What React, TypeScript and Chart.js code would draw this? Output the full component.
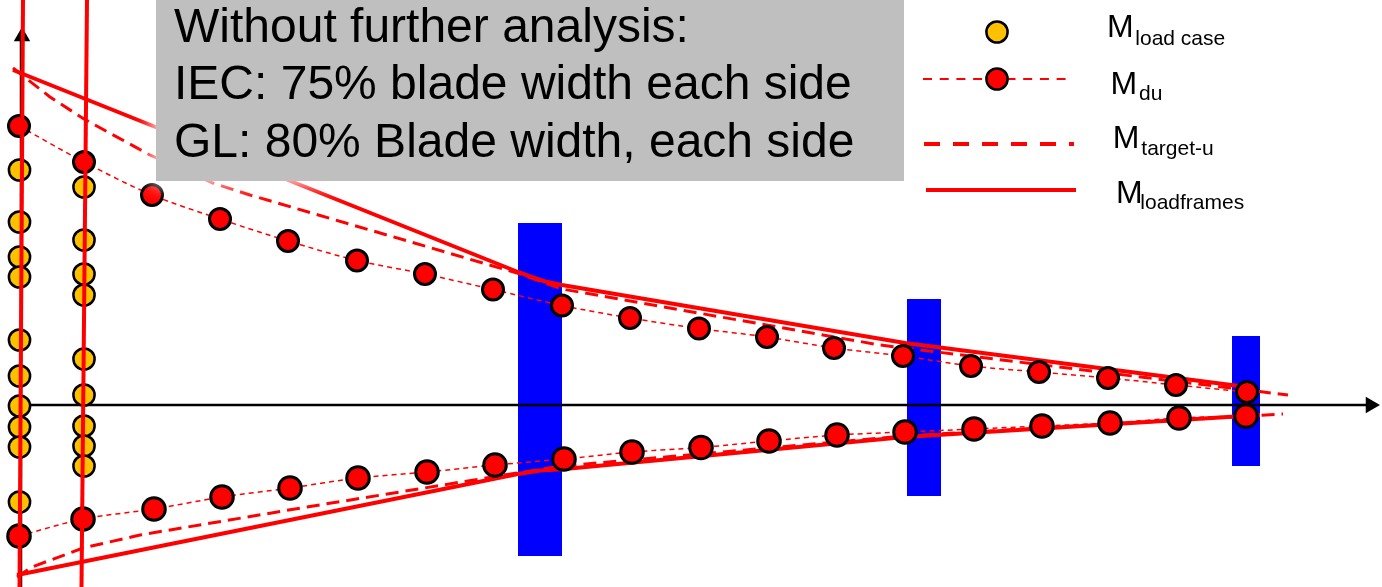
import React, { useEffect, useRef } from "react";
import { Chart, registerables } from "chart.js";

Chart.register(...registerables);

const W = 1382;
const H = 587;

// Diagram units: x = position along the blade, y = bending moment (0 on the blade axis)
const X_MIN = 0;
const X_MAX = 1382;
const Y_MIN = -182;
const Y_MAX = 405;

// M_du markers, upper (positive) side
const duUpperX = [19, 84, 152, 220, 288, 357, 425, 493, 562, 630, 699, 767, 834, 903, 971, 1039, 1108, 1176, 1247];
const duUpperM = [279, 243, 210, 186, 164, 144.5, 131, 115.5, 99.5, 87, 76.5, 68, 57, 49, 39, 33, 27, 20, 13];

// M_du markers, lower (negative) side
const duLowerX = [19, 83, 154, 222, 290, 358, 427, 495, 564, 632, 701, 769, 837, 905, 974, 1042, 1110, 1179, 1246];
const duLowerM = [-131, -114, -104, -92, -83, -73, -67, -60, -54, -47, -42.5, -36, -30, -27, -24, -21, -18, -13, -11];

// M_load case values at the two evaluated sections
const sectionAX = 19.5;
const loadCaseA = [235, 183, 148, 128, 65, 29, -1, -22, -42, -97];
const sectionBX = 84;
const loadCaseB = [218, 165, 131, 110, 46, 10, -21, -41, -61];

// Section cut lines (slightly inclined)
const sectionALineX = [23, 19.5];
const sectionBLineX = [87, 81.5];
const sectionLineM = [Y_MAX, Y_MIN];

// M_target-u envelope
const targetUpperX = [13, 50, 84, 150, 213, 250, 517, 562, 880, 1247, 1288];
const targetUpperM = [337, 308, 286, 250, 222, 210, 132, 116, 60, 15, 10];
const targetLowerX = [17, 32, 83, 140, 307, 517, 562, 905, 1247, 1283];
const targetLowerM = [-172, -162, -143, -130, -102, -68, -61, -31, -11, -9];

// M_loadframes envelope
const frameUpperX = [13, 518, 533, 545, 562, 905, 1247];
const frameUpperM = [335, 133, 127.5, 123.5, 120, 62, 18];
const frameLowerX = [17, 518, 540, 562, 905, 1260];
const frameLowerM = [-170, -69, -65.5, -64.3, -32, -10];

// Load frames (extent along the blade and moment range)
const loadFrameLeft = [518, 907, 1232];
const loadFrameRight = [562, 941, 1260];
const loadFrameTop = [182, 106, 69];
const loadFrameBottom = [-151, -91, -61];

// Legend entries
const legendMain = ["M", "M", "M", "M"];
const legendSub = ["load case", "du", "target-u", "loadframes"];

// Note lines
const noteLines = [
  "Without further analysis:",
  "IEC: 75% blade width each side",
  "GL: 80% Blade width, each side",
];

const RED = "#ff0000";
const YELLOW = "#ffc000";
const BLUE = "#0000ff";

const pts = (xs: number[], ys: number[]) => xs.map((x, i) => ({ x, y: ys[i] }));

export default function App() {
  const canvasRef = useRef<HTMLCanvasElement | null>(null);

  useEffect(() => {
    const canvas = canvasRef.current;
    if (!canvas) return;

    const lineBase = {
      type: "line" as const,
      pointRadius: 0,
      fill: false,
      tension: 0,
    };

    const datasets: any[] = [];

    // Section cut lines (on top)
    datasets.push({
      ...lineBase,
      label: "section A",
      data: pts(sectionALineX, sectionLineM),
      borderColor: RED,
      borderWidth: 4,
      order: 0,
    });
    datasets.push({
      ...lineBase,
      label: "section B",
      data: pts(sectionBLineX, sectionLineM),
      borderColor: RED,
      borderWidth: 4,
      order: 0,
    });

    // M_load case markers
    datasets.push({
      type: "line",
      label: "M load case A",
      data: loadCaseA.map((m) => ({ x: sectionAX, y: m })),
      showLine: false,
      pointRadius: 10.6,
      pointBackgroundColor: YELLOW,
      pointBorderColor: "#000",
      pointBorderWidth: 2.5,
      order: 1,
    });
    datasets.push({
      type: "line",
      label: "M load case B",
      data: loadCaseB.map((m) => ({ x: sectionBX, y: m })),
      showLine: false,
      pointRadius: 10.6,
      pointBackgroundColor: YELLOW,
      pointBorderColor: "#000",
      pointBorderWidth: 2.5,
      order: 1,
    });

    // M_du markers joined by a thin dashed line
    datasets.push({
      type: "line",
      label: "M du upper",
      data: pts(duUpperX, duUpperM),
      borderColor: RED,
      borderWidth: 1.5,
      borderDash: [5, 4],
      tension: 0.3,
      pointRadius: 10.5,
      pointBackgroundColor: RED,
      pointBorderColor: "#000",
      pointBorderWidth: 3,
      fill: false,
      order: 2,
    });
    datasets.push({
      type: "line",
      label: "M du lower",
      data: pts(duLowerX, duLowerM),
      borderColor: RED,
      borderWidth: 1.5,
      borderDash: [5, 4],
      tension: 0.3,
      pointRadius: 11.3,
      pointBackgroundColor: RED,
      pointBorderColor: "#000",
      pointBorderWidth: 3,
      fill: false,
      order: 2,
    });

    // M_loadframes
    datasets.push({
      ...lineBase,
      label: "M loadframes upper",
      data: pts(frameUpperX, frameUpperM),
      borderColor: RED,
      borderWidth: 4,
      order: 3,
    });
    datasets.push({
      ...lineBase,
      label: "M loadframes lower",
      data: pts(frameLowerX, frameLowerM),
      borderColor: RED,
      borderWidth: 4,
      order: 3,
    });

    // M_target-u
    datasets.push({
      ...lineBase,
      label: "M target-u upper",
      data: pts(targetUpperX, targetUpperM),
      borderColor: RED,
      borderWidth: 3,
      borderDash: [13, 7],
      order: 4,
    });
    datasets.push({
      ...lineBase,
      label: "M target-u lower",
      data: pts(targetLowerX, targetLowerM),
      borderColor: RED,
      borderWidth: 3,
      borderDash: [13, 7],
      order: 4,
    });

    // Axes with arrow heads
    datasets.push({
      ...lineBase,
      label: "blade axis",
      data: [
        { x: 20, y: 0 },
        { x: 1368, y: 0 },
      ],
      borderColor: "#000",
      borderWidth: 2.5,
      order: 5,
    });
    datasets.push({
      ...lineBase,
      label: "moment axis",
      data: [
        { x: 21, y: Y_MIN },
        { x: 21, y: 366 },
      ],
      borderColor: "#000",
      borderWidth: 2.5,
      order: 5,
    });
    datasets.push({
      type: "line",
      label: "arrow x",
      data: [{ x: 1370.5, y: 0 }],
      showLine: false,
      pointStyle: "triangle",
      rotation: 90,
      pointRadius: 9.5,
      pointBackgroundColor: "#000",
      pointBorderWidth: 0,
      order: 5,
    });
    datasets.push({
      type: "line",
      label: "arrow y",
      data: [{ x: 22, y: 368.5 }],
      showLine: false,
      pointStyle: "triangle",
      rotation: 0,
      pointRadius: 9.5,
      pointBackgroundColor: "#000",
      pointBorderWidth: 0,
      order: 5,
    });

    // Load frames as filled blocks
    loadFrameLeft.forEach((left, i) => {
      datasets.push({
        type: "line",
        label: `load frame ${i + 1}`,
        data: [
          { x: left, y: loadFrameTop[i] },
          { x: loadFrameRight[i], y: loadFrameTop[i] },
        ],
        borderWidth: 0,
        borderColor: BLUE,
        backgroundColor: BLUE,
        pointRadius: 0,
        fill: { value: loadFrameBottom[i] },
        order: 6,
      });
    });

    const chart = new Chart(canvas, {
      type: "line",
      data: { datasets },
      options: {
        animation: false,
        responsive: false,
        devicePixelRatio: 1,
        events: [],
        layout: { padding: 0, autoPadding: false },
        scales: {
          x: { type: "linear", min: X_MIN, max: X_MAX, display: false },
          y: { type: "linear", min: Y_MIN, max: Y_MAX, display: false },
        },
        plugins: {
          legend: { display: false },
          tooltip: { enabled: false },
        },
      },
    });

    return () => chart.destroy();
  }, []);

  const font = '"Liberation Sans", Arial, Helvetica, sans-serif';
  const mSize = 32;
  const subSize = 21;
  // baseline positions for legend text
  const mBase = [37.3, 94.3, 148.3, 203.3];
  const subBase = [45, 100, 155, 208.3];
  const mLeft = [1107, 1110.4, 1112.7, 1116];
  const subLeft = [1135.3, 1139, 1141.3, 1140.3];

  return (
    <div
      style={{
        position: "fixed",
        left: 0,
        top: 0,
        width: W,
        height: H,
        background: "#fff",
        overflow: "hidden",
      }}
    >
      <canvas
        ref={canvasRef}
        width={W}
        height={H}
        style={{ position: "absolute", left: 0, top: 0, width: W, height: H }}
      />

      {/* Note box */}
      <div
        style={{
          position: "absolute",
          left: 156,
          top: -20,
          width: 748,
          height: 201,
          background: "#bfbfbf",
          boxShadow: "0 0 16px 4px rgba(255,255,255,0.9)",
        }}
      >
        {noteLines.map((t, i) => (
          <div
            key={i}
            style={{
              position: "absolute",
              left: 18,
              top: 20 - 3.4 + i * 57.5,
              fontFamily: font,
              fontSize: 48,
              lineHeight: "57.5px",
              color: "#000",
              whiteSpace: "nowrap",
            }}
          >
            {t}
          </div>
        ))}
      </div>

      {/* Legend symbols */}
      <svg
        width={W}
        height={H}
        style={{ position: "absolute", left: 0, top: 0 }}
      >
        <circle cx={997} cy={32} r={10.6} fill={YELLOW} stroke="#000" strokeWidth={2.5} />
        <line x1={923} y1={79} x2={1073} y2={79} stroke={RED} strokeWidth={2} strokeDasharray="9 7.7" />
        <circle cx={997} cy={79} r={10.6} fill={RED} stroke="#000" strokeWidth={2.5} />
        <line x1={924} y1={144} x2={1074} y2={144} stroke={RED} strokeWidth={4} strokeDasharray="16 13" />
        <line x1={926} y1={190} x2={1076} y2={190} stroke={RED} strokeWidth={4} />
      </svg>

      {/* Legend labels */}
      {legendMain.map((m, i) => (
        <React.Fragment key={i}>
          <div
            style={{
              position: "absolute",
              left: mLeft[i],
              top: mBase[i] - 0.8465 * mSize,
              fontFamily: font,
              fontSize: mSize,
              lineHeight: `${mSize}px`,
              color: "#000",
              whiteSpace: "nowrap",
            }}
          >
            {m}
          </div>
          <div
            style={{
              position: "absolute",
              left: subLeft[i],
              top: subBase[i] - 0.8465 * subSize,
              fontFamily: font,
              fontSize: subSize,
              lineHeight: `${subSize}px`,
              color: "#000",
              whiteSpace: "nowrap",
            }}
          >
            {legendSub[i]}
          </div>
        </React.Fragment>
      ))}
    </div>
  );
}
